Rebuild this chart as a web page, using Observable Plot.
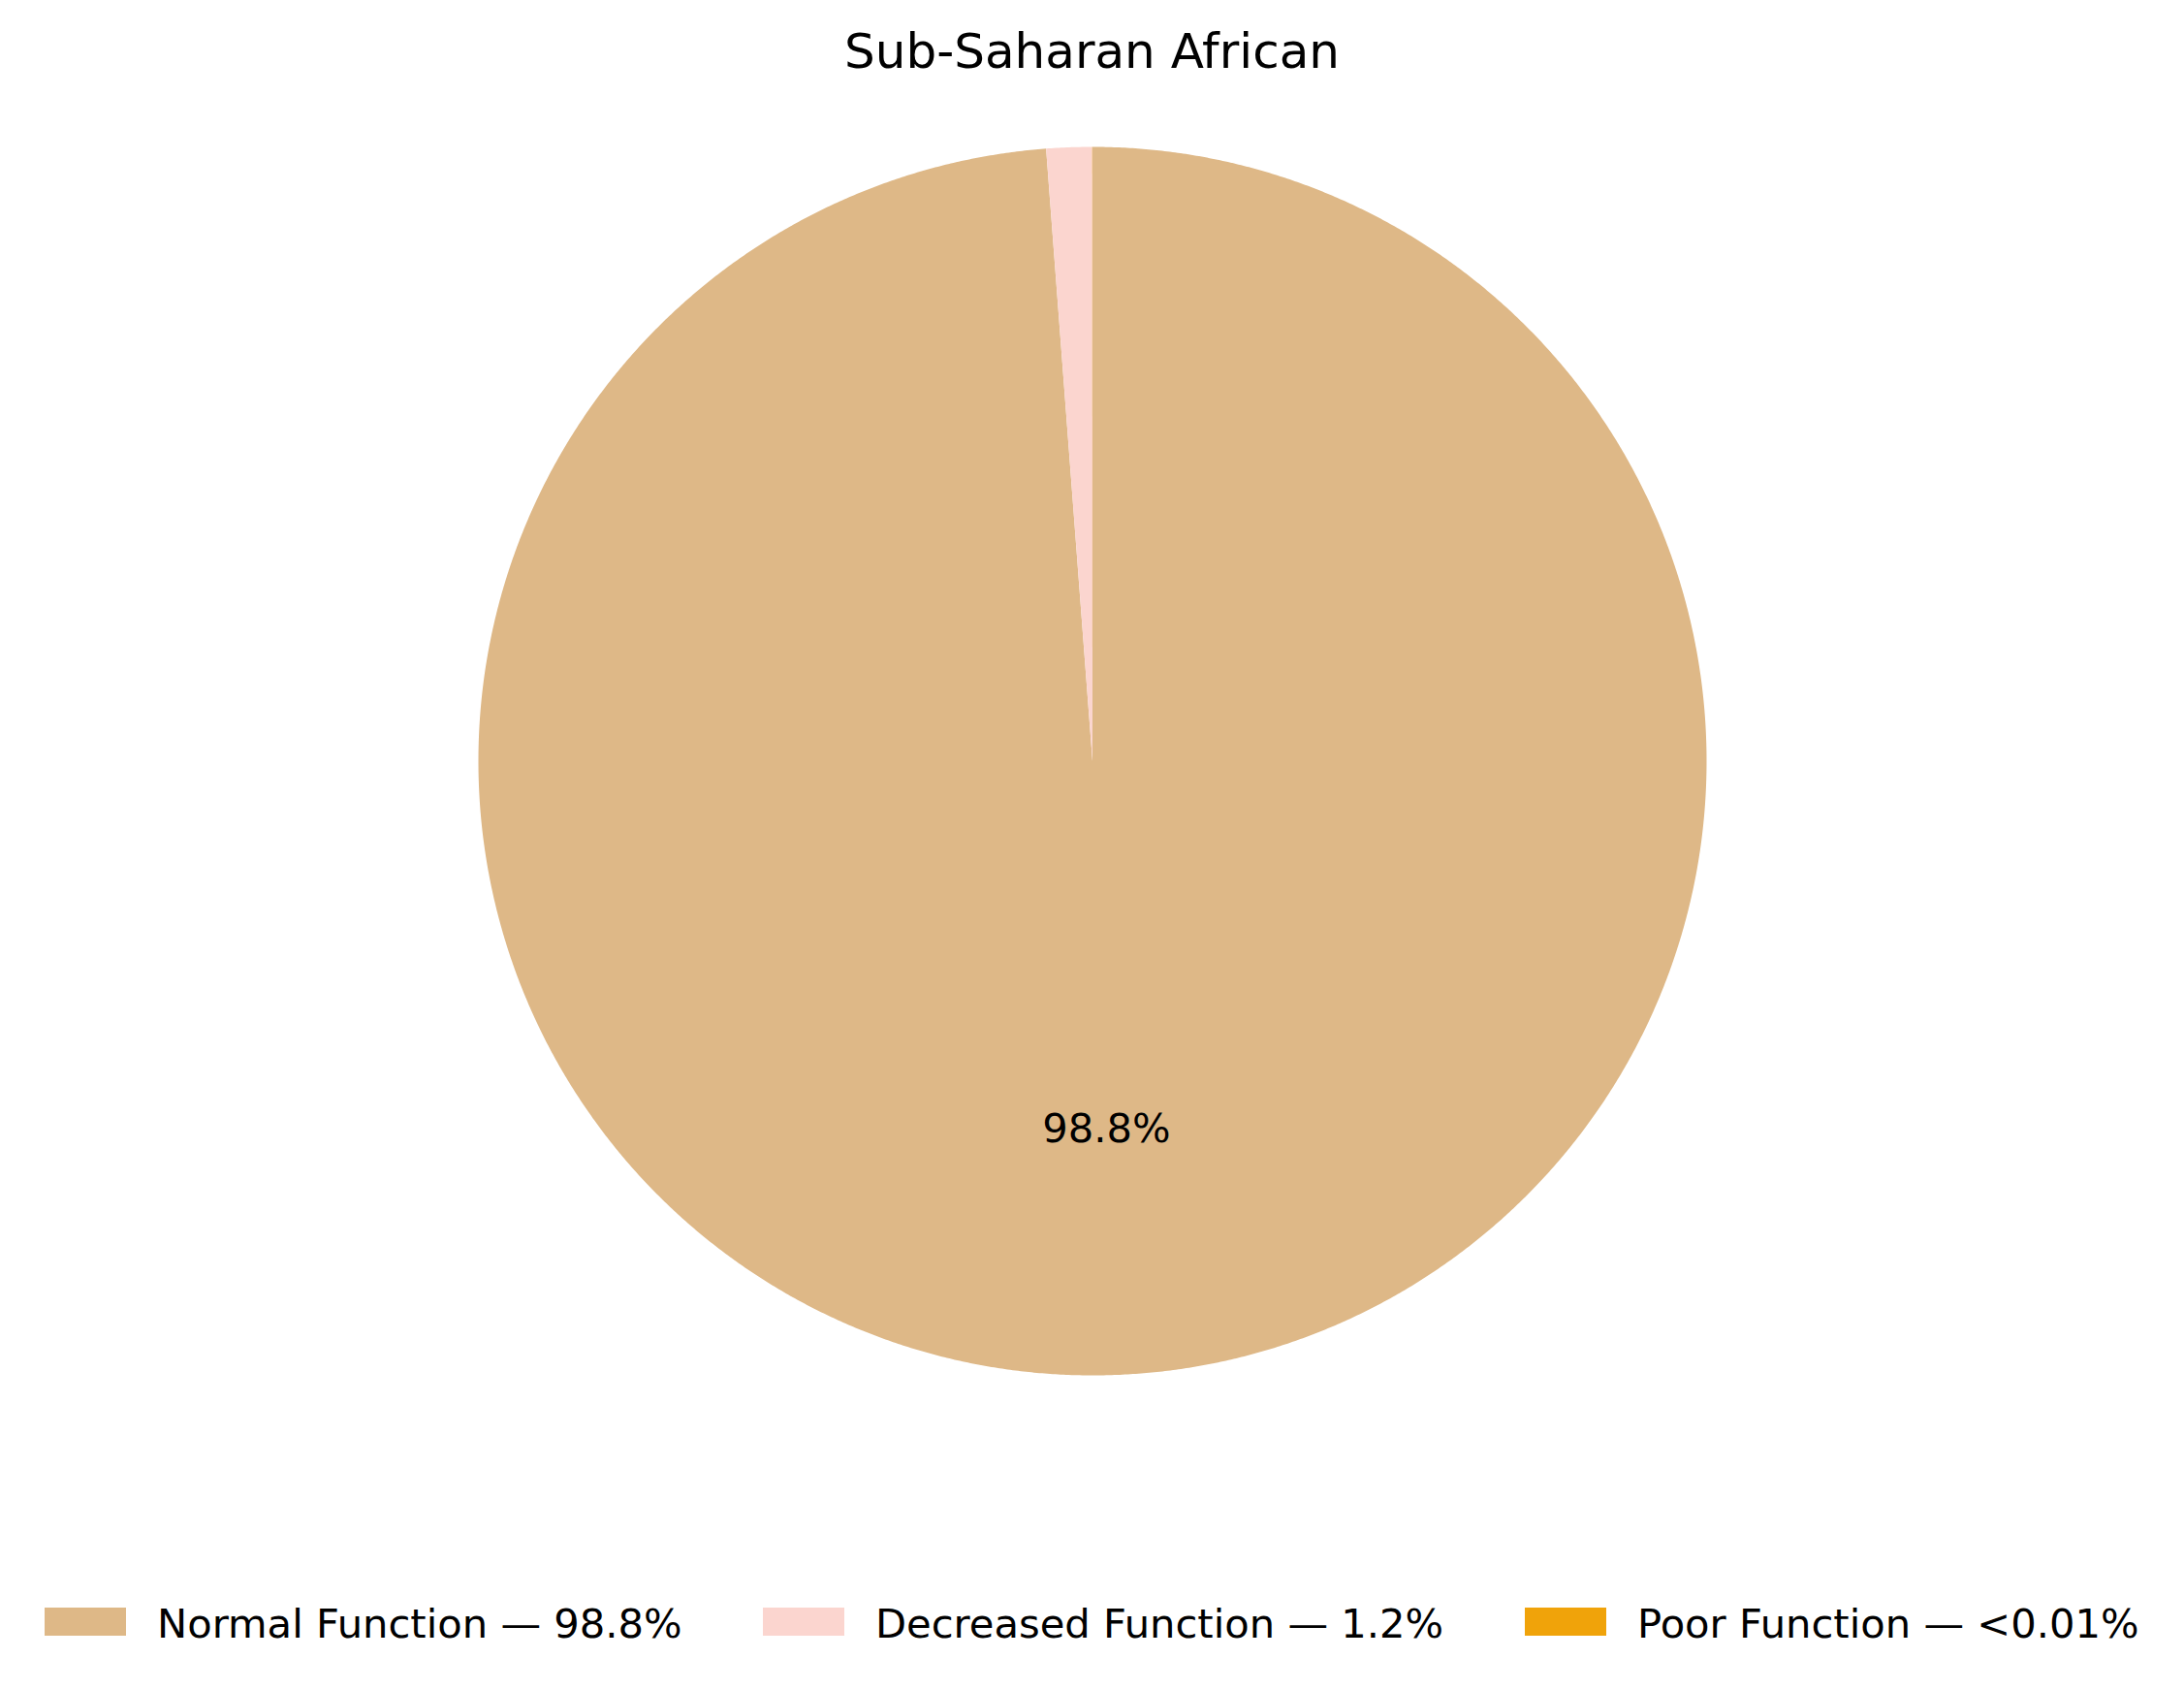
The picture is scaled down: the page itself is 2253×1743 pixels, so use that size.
<!DOCTYPE html>
<html>
<head>
<meta charset="utf-8">
<script src="https://cdn.jsdelivr.net/npm/d3@7"></script>
<script src="https://cdn.jsdelivr.net/npm/@observablehq/plot@0.6"></script>
<style>
  html, body { margin: 0; padding: 0; background: #fff; }
  #page { position: relative; width: 2253px; height: 1743px; font-family: "DejaVu Sans", sans-serif; color: #000; overflow: hidden; }
  #title { position: absolute; left: 0; width: 2253px; top: 28px; text-align: center; font-size: 50px; line-height: 50px; white-space: nowrap; }
  #chart { position: absolute; left: 0; top: 100px; }
  .lg-patch { position: absolute; height: 29px; }
  .lg-text { position: absolute; font-size: 41.67px; line-height: 41.67px; white-space: nowrap; }
</style>
</head>
<body>
<div id="page">
  <div id="title"></div>
  <div id="chart"></div>
  <div id="legend"></div>
</div>
<script>
// ---- data ----
const title = "Sub-Saharan African";
const categories = ["Normal Function", "Decreased Function", "Poor Function"];
const shares = [98.8, 1.2, 0.004];
const legendLabels = ["Normal Function — 98.8%", "Decreased Function — 1.2%", "Poor Function — <0.01%"];
const colors = ["#deb887", "#fbd5cf", "#f0a30a"];

document.getElementById("title").textContent = title;

// ---- slice geometry (clockwise from top) ----
const total = d3.sum(shares);
const slices = [];
let acc = 0;
categories.forEach((c, i) => {
  const a0 = acc / total * 2 * Math.PI;
  acc += shares[i];
  const a1 = acc / total * 2 * Math.PI;
  slices.push({category: c, share: shares[i], a0, a1});
});

const polyPts = [];
for (const s of slices) {
  polyPts.push({category: s.category, x: 0, y: 0});
  const n = Math.max(2, Math.ceil((s.a1 - s.a0) / (Math.PI / 720)));
  for (let k = 0; k <= n; k++) {
    const a = s.a0 + (s.a1 - s.a0) * k / n;
    polyPts.push({category: s.category, x: Math.sin(a), y: Math.cos(a)});
  }
}

const labels = slices.filter(s => s.share / total >= 0.05).map(s => {
  const m = (s.a0 + s.a1) / 2;
  return {x: 0.6 * Math.sin(m), y: 0.6 * Math.cos(m), text: (s.share / total * 100).toFixed(1) + "%"};
});

const W = 2253, H = 1370, cx = 1126.5, cy = 684.5, R = 633.5;
const chart = Plot.plot({
  width: W,
  height: H,
  marginLeft: cx - R,
  marginRight: W - cx - R,
  marginTop: cy - R,
  marginBottom: H - cy - R,
  x: {domain: [-1, 1], axis: null},
  y: {domain: [-1, 1], axis: null},
  color: {domain: categories, range: colors},
  style: {fontFamily: "DejaVu Sans, sans-serif", background: "transparent"},
  marks: [
    Plot.line(polyPts, {x: "x", y: "y", z: "category", fill: "category", stroke: null, curve: "linear-closed"}),
    Plot.text(labels, {x: "x", y: "y", text: "text", fontSize: 41.67, fill: "#000", textAnchor: "middle", lineAnchor: "middle"})
  ]
});
document.getElementById("chart").appendChild(chart);

// ---- legend ----
const legend = document.getElementById("legend");
const patchX = [46, 787, 1573];
const textX = [162, 903, 1689];
categories.forEach((c, i) => {
  const p = document.createElement("div");
  p.className = "lg-patch";
  p.style.left = patchX[i] + "px";
  p.style.top = "1658px";
  p.style.width = "84px";
  p.style.background = colors[i];
  legend.appendChild(p);
  const t = document.createElement("div");
  t.className = "lg-text";
  t.style.left = textX[i] + "px";
  t.style.top = "1654px";
  t.textContent = legendLabels[i];
  legend.appendChild(t);
});
</script>
</body>
</html>
